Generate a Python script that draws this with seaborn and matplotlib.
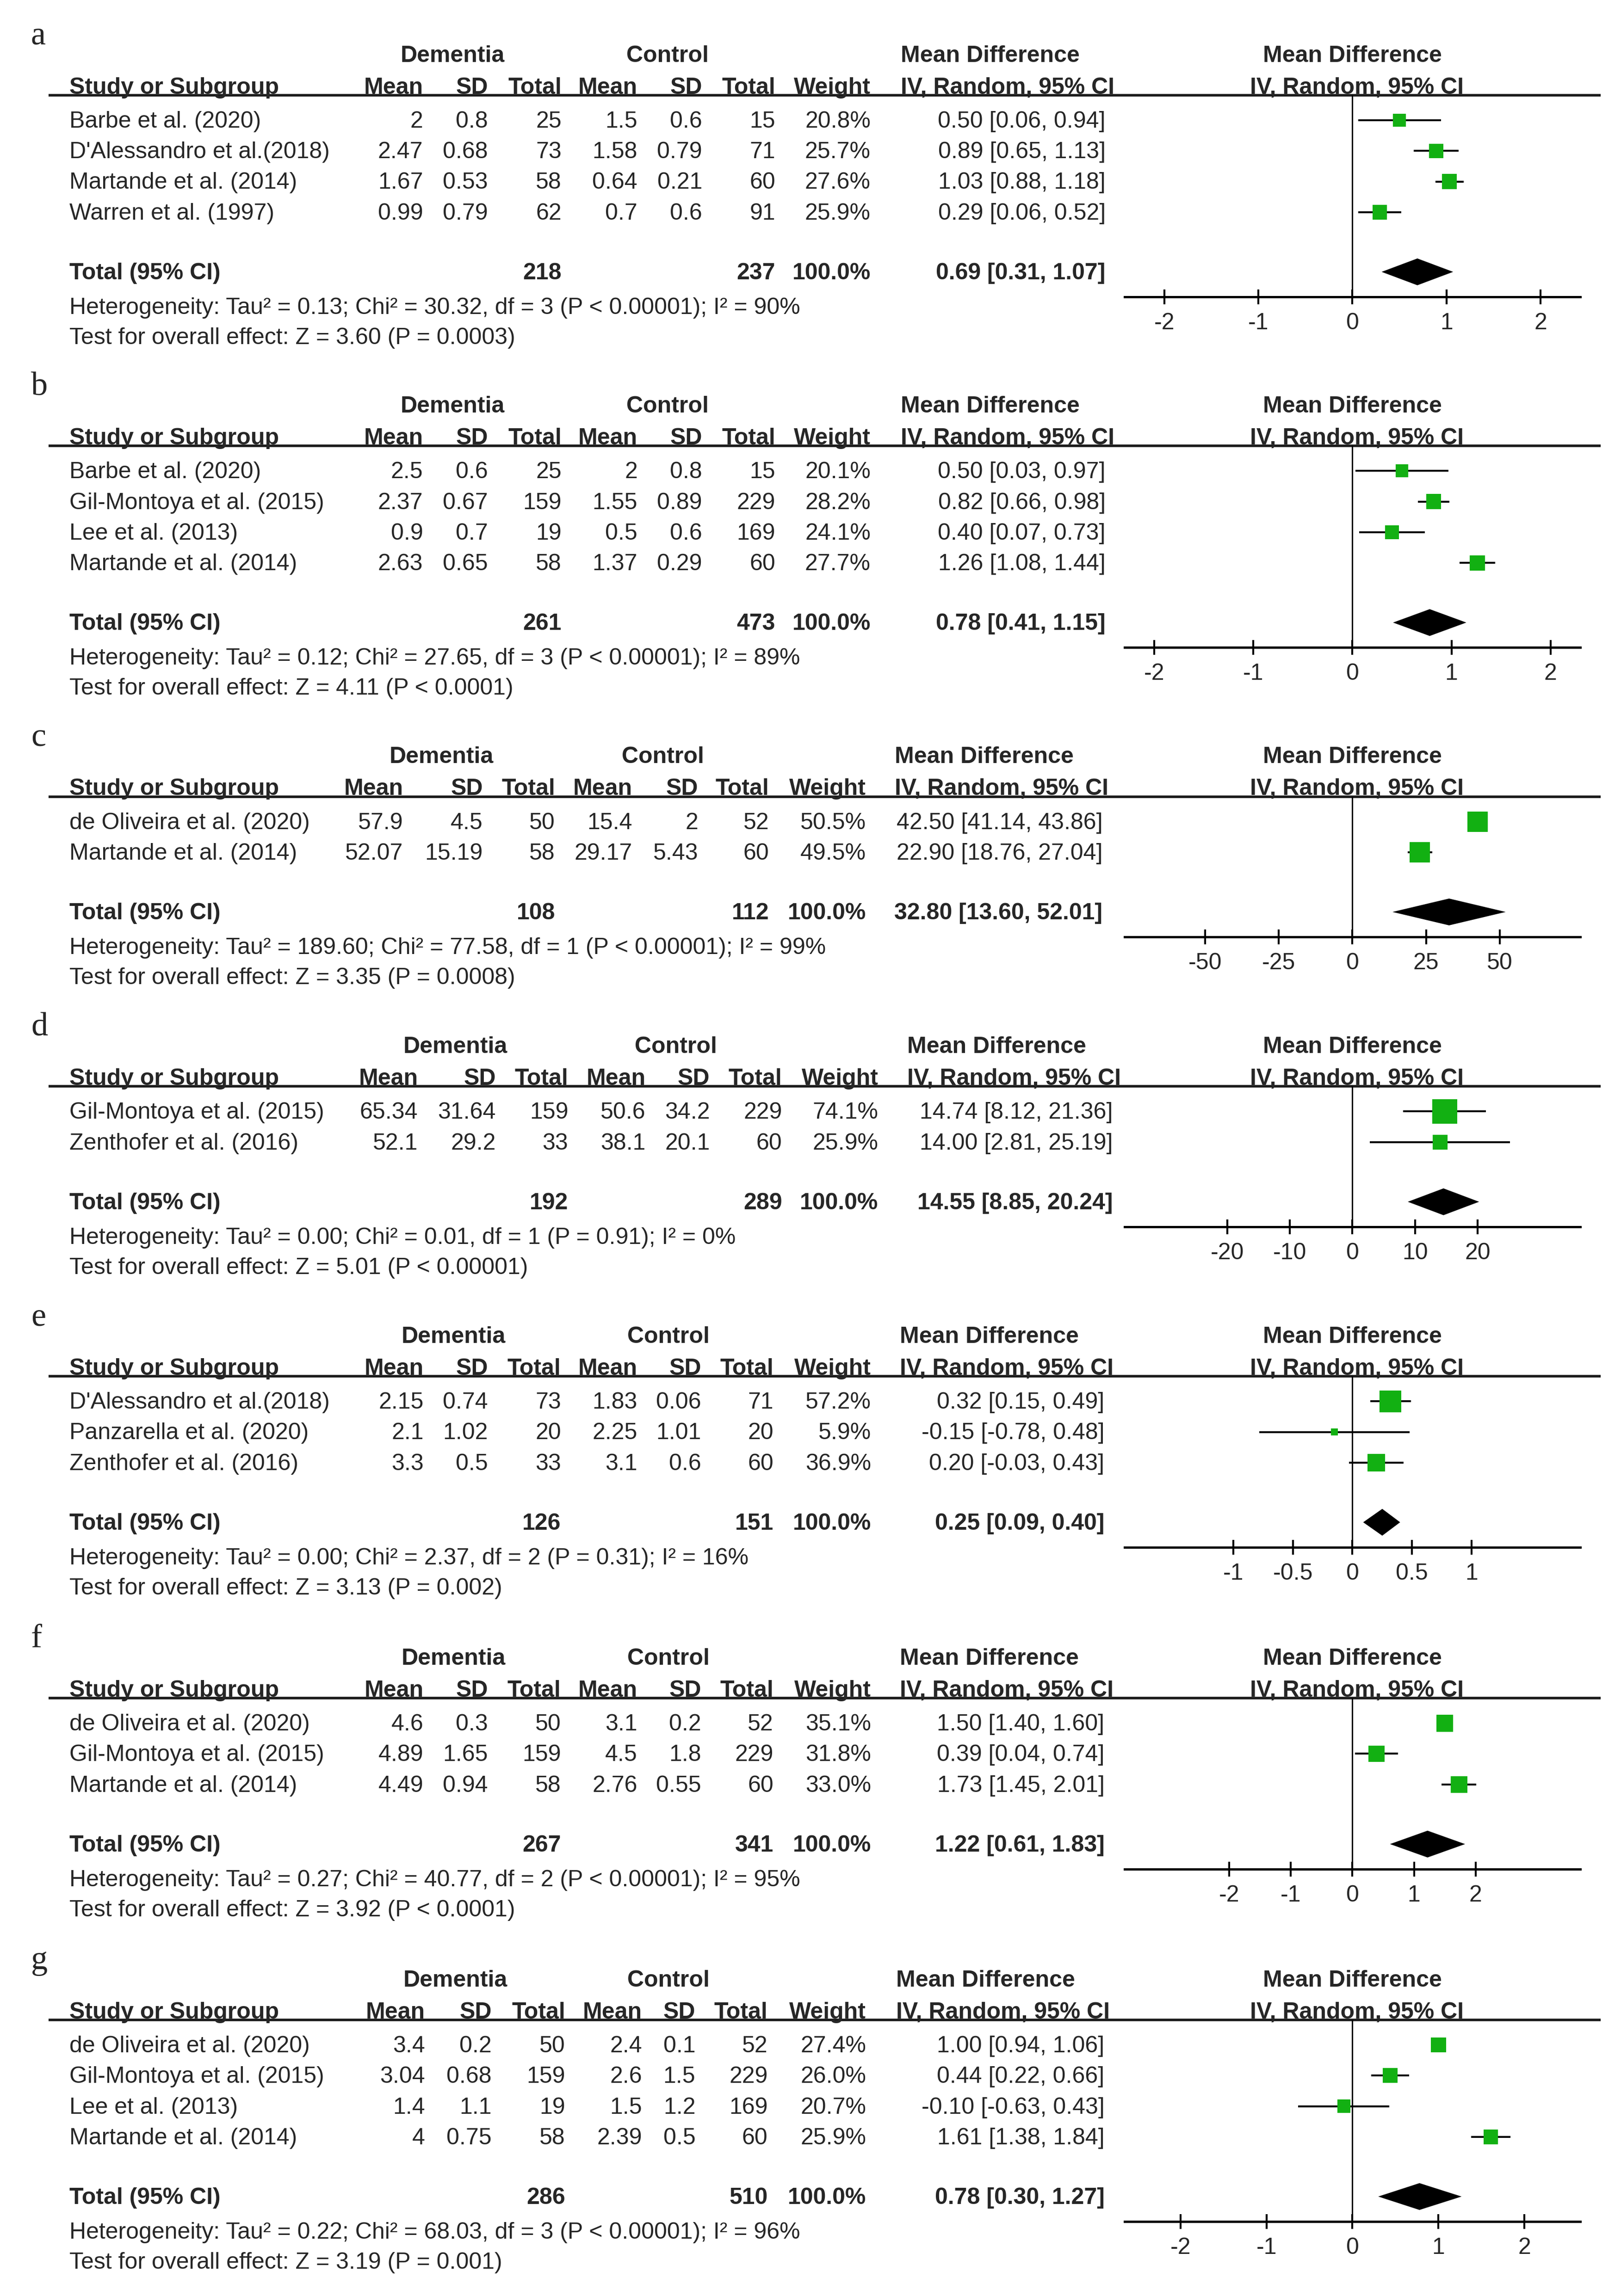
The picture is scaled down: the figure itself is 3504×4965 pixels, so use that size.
import numpy as np
import matplotlib
matplotlib.use("Agg")
import matplotlib.pyplot as plt
import seaborn as sns

# --- data, one entry per panel (a-g) ---
panels = ["a", "b", "c", "d", "e", "f", "g"]
studies = [
    ["Barbe et al. (2020)", "D'Alessandro et al.(2018)", "Martande et al. (2014)", "Warren et al. (1997)"],
    ["Barbe et al. (2020)", "Gil-Montoya et al. (2015)", "Lee et al. (2013)", "Martande et al. (2014)"],
    ["de Oliveira et al. (2020)", "Martande et al. (2014)"],
    ["Gil-Montoya et al. (2015)", "Zenthofer et al. (2016)"],
    ["D'Alessandro et al.(2018)", "Panzarella et al. (2020)", "Zenthofer et al. (2016)"],
    ["de Oliveira et al. (2020)", "Gil-Montoya et al. (2015)", "Martande et al. (2014)"],
    ["de Oliveira et al. (2020)", "Gil-Montoya et al. (2015)", "Lee et al. (2013)", "Martande et al. (2014)"],
]
dem_mean = [[2, 2.47, 1.67, 0.99], [2.5, 2.37, 0.9, 2.63], [57.9, 52.07], [65.34, 52.1],
            [2.15, 2.1, 3.3], [4.6, 4.89, 4.49], [3.4, 3.04, 1.4, 4]]
dem_sd = [[0.8, 0.68, 0.53, 0.79], [0.6, 0.67, 0.7, 0.65], [4.5, 15.19], [31.64, 29.2],
          [0.74, 1.02, 0.5], [0.3, 1.65, 0.94], [0.2, 0.68, 1.1, 0.75]]
dem_n = [[25, 73, 58, 62], [25, 159, 19, 58], [50, 58], [159, 33],
         [73, 20, 33], [50, 159, 58], [50, 159, 19, 58]]
ctl_mean = [[1.5, 1.58, 0.64, 0.7], [2, 1.55, 0.5, 1.37], [15.4, 29.17], [50.6, 38.1],
            [1.83, 2.25, 3.1], [3.1, 4.5, 2.76], [2.4, 2.6, 1.5, 2.39]]
ctl_sd = [[0.6, 0.79, 0.21, 0.6], [0.8, 0.89, 0.6, 0.29], [2, 5.43], [34.2, 20.1],
          [0.06, 1.01, 0.6], [0.2, 1.8, 0.55], [0.1, 1.5, 1.2, 0.5]]
ctl_n = [[15, 71, 60, 91], [15, 229, 169, 60], [52, 60], [229, 60],
         [71, 20, 60], [52, 229, 60], [52, 229, 169, 60]]
weight = [[20.8, 25.7, 27.6, 25.9], [20.1, 28.2, 24.1, 27.7], [50.5, 49.5], [74.1, 25.9],
          [57.2, 5.9, 36.9], [35.1, 31.8, 33.0], [27.4, 26.0, 20.7, 25.9]]
md = [[0.50, 0.89, 1.03, 0.29], [0.50, 0.82, 0.40, 1.26], [42.50, 22.90], [14.74, 14.00],
      [0.32, -0.15, 0.20], [1.50, 0.39, 1.73], [1.00, 0.44, -0.10, 1.61]]
ci_lo = [[0.06, 0.65, 0.88, 0.06], [0.03, 0.66, 0.07, 1.08], [41.14, 18.76], [8.12, 2.81],
         [0.15, -0.78, -0.03], [1.40, 0.04, 1.45], [0.94, 0.22, -0.63, 1.38]]
ci_hi = [[0.94, 1.13, 1.18, 0.52], [0.97, 0.98, 0.73, 1.44], [43.86, 27.04], [21.36, 25.19],
         [0.49, 0.48, 0.43], [1.60, 0.74, 2.01], [1.06, 0.66, 0.43, 1.84]]

total_dem = [218, 261, 108, 192, 126, 267, 286]
total_ctl = [237, 473, 112, 289, 151, 341, 510]
pooled_md = [0.69, 0.78, 32.80, 14.55, 0.25, 1.22, 0.78]
pooled_lo = [0.31, 0.41, 13.60, 8.85, 0.09, 0.61, 0.30]
pooled_hi = [1.07, 1.15, 52.01, 20.24, 0.40, 1.83, 1.27]
tau2 = [0.13, 0.12, 189.60, 0.00, 0.00, 0.27, 0.22]
chi2 = [30.32, 27.65, 77.58, 0.01, 2.37, 40.77, 68.03]
het_df = [3, 3, 1, 1, 2, 2, 3]
het_p = ["P < 0.00001", "P < 0.00001", "P < 0.00001", "P = 0.91", "P = 0.31",
         "P < 0.00001", "P < 0.00001"]
i2 = [90, 89, 99, 0, 16, 95, 96]
z_val = [3.60, 4.11, 3.35, 5.01, 3.13, 3.92, 3.19]
z_p = ["P = 0.0003", "P < 0.0001", "P = 0.0008", "P < 0.00001", "P = 0.002",
       "P < 0.0001", "P = 0.001"]
x_ticks = [[-2, -1, 0, 1, 2], [-2, -1, 0, 1, 2], [-50, -25, 0, 25, 50], [-20, -10, 0, 10, 20],
           [-1, -0.5, 0, 0.5, 1], [-2, -1, 0, 1, 2], [-2, -1, 0, 1, 2]]

# --- layout (reference coordinates, 1100 units wide) ---
x_half = [2.42, 2.30, 77.3, 36.4, 1.91, 3.70, 2.65]
bases = [58.6, 296.6, 534.6, 731.3, 928.0, 1146.4, 1364.8]
# right edges: dem mean, sd, total, ctl mean, sd, total, weight, CI ; then dementia/control centre, MD left
cols = [
    [287, 331, 381, 432.5, 476.4, 526, 590.6, 750, 307, 453, 611],
    [287, 331, 381, 432.5, 476.4, 526, 590.6, 750, 307, 453, 611],
    [273.6, 327.6, 376.6, 429, 473.7, 521.8, 587.5, 748, 299.6, 449.7, 607],
    [283.5, 336.4, 385.5, 438, 481.6, 530.6, 595.8, 755, 309, 458.5, 615.5],
    [287.4, 331, 380.6, 432.5, 475.7, 524.7, 591, 749.3, 307.5, 453.6, 610.5],
    [287.4, 331, 380.6, 432.5, 475.7, 524.7, 591, 749.3, 307.5, 453.6, 610.5],
    [288.4, 333.5, 383.5, 435.5, 471.8, 520.8, 587.5, 749.3, 309, 453.6, 608],
]
W = 1100.0
SC = 3505 / W
H = 4965 / SC
ROW = 20.8
FS = 36
TXT = "#262626"
GREEN = "#12b012"
F_LEFT, F_RIGHT, F_ZERO = 763, 1072, 917.5

sns.set_theme(style="white")
plt.rcParams["font.family"] = ["Liberation Sans", "DejaVu Sans"]

fig = plt.figure(figsize=(35.05, 49.65), dpi=100)
ax_t = fig.add_axes([0, 0, 1, 1])
ax_t.set_xlim(0, W)
ax_t.set_ylim(H, 0)
ax_t.axis("off")


def txt(x, y, s, ha="left", bold=False):
    ax_t.text(x, y + 5, s, ha=ha, va="baseline", fontsize=FS,
              fontweight="bold" if bold else "normal", color=TXT)


for k, lab in enumerate(panels):
    b = bases[k]
    c = cols[k]
    n = len(studies[k])
    first_y = b + 23
    total_y = first_y + ROW * (n - 1) + 40.5
    axis_y = total_y + 17

    # panel letter
    ax_t.text(21, b - 28.5, lab, ha="left", va="baseline", fontsize=52,
              family="Liberation Serif", color=TXT)

    # group headers
    txt(c[8], b - 21.7, "Dementia", ha="center", bold=True)
    txt(c[9], b - 21.7, "Control", ha="center", bold=True)
    txt(c[10], b - 21.7, "Mean Difference", bold=True)
    txt(F_ZERO, b - 21.7, "Mean Difference", ha="center", bold=True)

    # column headers
    txt(47, b, "Study or Subgroup", bold=True)
    for xr, h in zip(c[:7], ["Mean", "SD", "Total", "Mean", "SD", "Total", "Weight"]):
        txt(xr, b, h, ha="right", bold=True)
    txt(c[10], b, "IV, Random, 95% CI", bold=True)
    txt(F_ZERO + 3, b, "IV, Random, 95% CI", ha="center", bold=True)
    ax_t.plot([33, 1086], [b + 6, b + 6], color="#1a1a1a", lw=4, solid_capstyle="butt")

    # study rows
    for i in range(n):
        y = first_y + ROW * i
        txt(47, y, studies[k][i])
        vals = [f"{dem_mean[k][i]:g}", f"{dem_sd[k][i]:g}", f"{dem_n[k][i]}",
                f"{ctl_mean[k][i]:g}", f"{ctl_sd[k][i]:g}", f"{ctl_n[k][i]}",
                f"{weight[k][i]:.1f}%",
                f"{md[k][i]:.2f} [{ci_lo[k][i]:.2f}, {ci_hi[k][i]:.2f}]"]
        for xr, v in zip(c[:8], vals):
            txt(xr, y, v, ha="right")

    # total row and statistics
    txt(47, total_y, "Total (95% CI)", bold=True)
    txt(c[2], total_y, f"{total_dem[k]}", ha="right", bold=True)
    txt(c[5], total_y, f"{total_ctl[k]}", ha="right", bold=True)
    txt(c[6], total_y, "100.0%", ha="right", bold=True)
    txt(c[7], total_y, f"{pooled_md[k]:.2f} [{pooled_lo[k]:.2f}, {pooled_hi[k]:.2f}]",
        ha="right", bold=True)
    txt(47, total_y + 23.5,
        f"Heterogeneity: Tau² = {tau2[k]:.2f}; Chi² = {chi2[k]:.2f}, df = {het_df[k]} "
        f"({het_p[k]}); I² = {i2[k]}%")
    txt(47, total_y + 44, f"Test for overall effect: Z = {z_val[k]:.2f} ({z_p[k]})")

    # forest plot
    top, bot = b + 6, axis_y
    L = x_half[k]
    zero_frac = (F_ZERO - F_LEFT) / (F_RIGHT - F_LEFT)
    axf = fig.add_axes([F_LEFT / W, 1 - bot / H, (F_RIGHT - F_LEFT) / W, (bot - top) / H])
    axf.patch.set_alpha(0)
    rows = np.arange(n)
    tot_row = (total_y - first_y) / ROW

    axf.axvline(0, color="black", lw=2.2, zorder=1)
    axf.hlines(rows, ci_lo[k], ci_hi[k], color="black", lw=3, zorder=2)
    sns.scatterplot(x=md[k], y=rows, marker="s", s=np.array(weight[k]) * 20,
                    color=GREEN, linewidth=0, legend=False, ax=axf, zorder=3)
    dh = 9.1 / ROW
    axf.fill([pooled_lo[k], pooled_md[k], pooled_hi[k], pooled_md[k]],
             [tot_row, tot_row - dh, tot_row, tot_row + dh], color="black", lw=0, zorder=3)

    axf.set_xlim(-L * zero_frac * 2, L * (1 - zero_frac) * 2)
    axf.set_ylim((bot - first_y) / ROW, (top - first_y) / ROW)
    axf.set_xlabel("")
    axf.set_ylabel("")
    axf.set_yticks([])
    axf.set_xticks(x_ticks[k])
    axf.set_xticklabels([f"{t:g}" for t in x_ticks[k]])
    for s in ["left", "top", "right"]:
        axf.spines[s].set_visible(False)
    axf.spines["bottom"].set_linewidth(3.6)
    axf.spines["bottom"].set_color("black")
    axf.tick_params(axis="x", bottom=True, direction="inout", length=23, width=3,
                    color="black", pad=13, labelsize=FS, labelcolor=TXT)

fig.savefig("out.png", dpi=100)
